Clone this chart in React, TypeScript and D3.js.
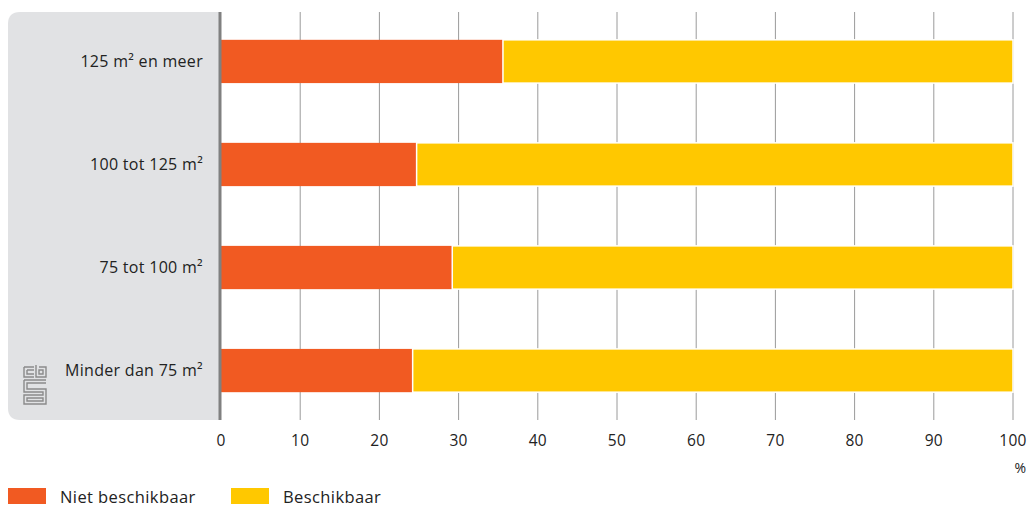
import React from "react";
import * as d3 from "d3";

const categories = ["125 m² en meer", "100 tot 125 m²", "75 tot 100 m²", "Minder dan 75 m²"];
const nietBeschikbaar = [35.6, 24.7, 29.2, 24.2];
const beschikbaar = [64.4, 75.3, 70.8, 75.8];
const ticks = [0, 10, 20, 30, 40, 50, 60, 70, 80, 90, 100];
const seriesNames = ["Niet beschikbaar", "Beschikbaar"];
const colors = ["#F15A22", "#FFC800"];

export default function App() {
  const W = 1029, H = 507;
  const top = 12, bottom = 420;
  const x = d3.scaleLinear().domain([0, 100]).range([221, 1013]);
  const y = d3.scaleBand().domain(categories).range([top, bottom]).paddingInner(0.58).paddingOuter(0.27);
  const font = "'Open Sans', 'DejaVu Sans', sans-serif";
  const panelPath = `M 220 ${top} L 20 ${top} Q 8 ${top} 8 ${top + 12} L 8 ${bottom - 12} Q 8 ${bottom} 20 ${bottom} L 220 ${bottom} Z`;
  return (
    <svg width={W} height={H} style={{ position: "absolute", left: 0, top: 0 }} fontFamily={font}>
      <path d={panelPath} fill="#E1E2E4" />
      {ticks.slice(1).map((t) => (
        <line key={t} x1={x(t)} x2={x(t)} y1={top} y2={bottom} stroke="#9a9a9a" strokeWidth={1} />
      ))}
      {categories.map((c, i) => {
        const yy = y(c)!;
        const h = y.bandwidth();
        return (
          <g key={c}>
            <rect x={x(0)} y={yy} width={x(nietBeschikbaar[i]) - x(0)} height={h} fill={colors[0]} />
            <rect x={x(nietBeschikbaar[i])} y={yy} width={x(nietBeschikbaar[i] + beschikbaar[i]) - x(nietBeschikbaar[i])} height={h} fill={colors[1]} stroke="#fff" strokeWidth={1.5} />
            <text x={203} y={yy + h / 2} dy="0.35em" textAnchor="end" fontSize={16} letterSpacing={0.3} fill="#222">{c}</text>
          </g>
        );
      })}
      <line x1={220} x2={220} y1={top} y2={bottom} stroke="#808080" strokeWidth={3} />
      {ticks.map((t) => (
        <text key={t} x={x(t)} y={446} textAnchor="middle" fontSize={15.5} letterSpacing={0.3} fill="#222">{t}</text>
      ))}
      <text x={1026} y={473} textAnchor="end" fontSize={14} fill="#222">%</text>
      {/* cbs logo */}
      <g stroke="#8a8a8a" strokeWidth={1.4} fill="none">
        <path d="M 24 367 L 24 377 L 34 377 M 24 367 L 34 367 M 27 370 L 34 370 M 27 370 L 27 374 L 34 374" />
        <path d="M 36 365 L 36 377 L 46 377 L 46 367 L 39 367 M 39 370 L 43 370 L 43 374 L 39 374 Z" />
        <path d="M 24 380 L 46 380 M 24 380 L 24 392 L 43 392 L 43 395 L 24 395 L 24 404 L 46 404 L 46 389 L 27 389 L 27 383 L 46 383 M 27 398 L 27 401 L 43 401 L 43 398 Z" />
      </g>
      {/* legend */}
      {seriesNames.map((s, i) => {
        const lx = i === 0 ? 8 : 231;
        return (
          <g key={s}>
            <rect x={lx} y={488} width={38} height={16} fill={colors[i]} />
            <text x={lx + 52} y={503} fontSize={16.5} letterSpacing={0.4} fill="#222">{s}</text>
          </g>
        );
      })}
    </svg>
  );
}
